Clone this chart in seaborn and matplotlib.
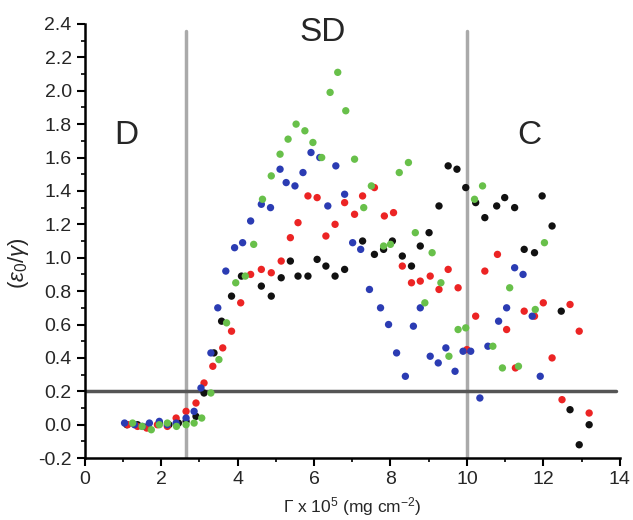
import matplotlib
matplotlib.use("Agg")
import matplotlib.pyplot as plt
import numpy as np
import pandas as pd
import seaborn as sns
from matplotlib.ticker import MultipleLocator

# surface coverage (x 1e5 mg cm^-2) and (eps0/gamma) for the four data sets
black_x = [1.10, 1.38, 1.65, 1.95, 2.20, 2.45, 2.65, 2.91, 3.12, 3.38, 3.58, 3.84, 4.10, 4.62,
           4.88, 5.14, 5.38, 5.58, 5.84, 6.08, 6.31, 6.55, 6.80, 7.27, 7.58, 7.82, 8.05, 8.31,
           8.55, 8.78, 9.01, 9.27, 9.51, 9.74, 9.97, 10.23, 10.47, 10.78, 10.99, 11.25, 11.50,
           11.77, 11.97, 12.23, 12.47, 12.70, 12.94, 13.20]
black_y = [0.00, 0.00, -0.01, 0.01, 0.00, 0.01, 0.02, 0.05, 0.19, 0.43, 0.62, 0.77, 0.89, 0.83,
           0.77, 0.88, 0.98, 0.89, 0.89, 0.99, 0.95, 0.89, 0.93, 1.10, 1.02, 1.05, 1.10, 1.01,
           0.95, 1.07, 1.15, 1.31, 1.55, 1.53, 1.42, 1.33, 1.24, 1.31, 1.36, 1.30, 1.05,
           1.03, 1.37, 1.19, 0.68, 0.09, -0.12, 0.00]

red_x = [1.12, 1.38, 1.62, 1.90, 2.16, 2.39, 2.65, 2.91, 3.12, 3.35, 3.61, 3.84, 4.08, 4.34,
         4.62, 4.88, 5.14, 5.38, 5.58, 5.84, 6.08, 6.31, 6.55, 6.80, 7.06, 7.27, 7.58, 7.84,
         8.08, 8.31, 8.55, 8.78, 9.04, 9.27, 9.51, 9.77, 10.00, 10.23, 10.47, 10.80, 11.04,
         11.27, 11.50, 11.77, 12.00, 12.23, 12.49, 12.70, 12.94, 13.20]
red_y = [0.00, -0.01, -0.02, 0.00, -0.01, 0.04, 0.08, 0.13, 0.25, 0.35, 0.46, 0.56, 0.73, 0.90,
         0.93, 0.91, 0.98, 1.12, 1.21, 1.37, 1.36, 1.13, 1.20, 1.33, 1.26, 1.37, 1.42, 1.25,
         1.27, 0.95, 0.85, 0.86, 0.89, 0.81, 0.93, 0.82, 0.45, 0.65, 0.92, 1.02, 0.57,
         0.34, 0.68, 0.65, 0.73, 0.40, 0.15, 0.72, 0.56, 0.07]

blue_x = [1.04, 1.30, 1.51, 1.69, 1.95, 2.16, 2.39, 2.65, 2.86, 3.04, 3.30, 3.48, 3.69, 3.92,
          4.13, 4.34, 4.62, 4.86, 5.11, 5.27, 5.50, 5.71, 5.92, 6.15, 6.36, 6.57, 6.80, 7.01,
          7.22, 7.45, 7.74, 7.95, 8.16, 8.39, 8.60, 8.78, 9.04, 9.25, 9.45, 9.69, 9.90, 10.10,
          10.34, 10.55, 10.83, 11.04, 11.25, 11.47, 11.71, 11.92]
blue_y = [0.01, 0.00, -0.01, 0.01, 0.02, 0.00, 0.01, 0.04, 0.08, 0.22, 0.43, 0.70, 0.92, 1.06,
          1.09, 1.22, 1.32, 1.30, 1.53, 1.45, 1.43, 1.51, 1.63, 1.60, 1.31, 1.55, 1.38, 1.09,
          1.05, 0.81, 0.70, 0.60, 0.43, 0.29, 0.59, 0.70, 0.41, 0.37, 0.46, 0.32, 0.44, 0.44,
          0.16, 0.47, 0.62, 0.70, 0.94, 0.90, 0.65, 0.29]

green_x = [1.25, 1.50, 1.74, 1.95, 2.16, 2.40, 2.65, 2.86, 3.06, 3.30, 3.51, 3.71, 3.95, 4.20,
           4.42, 4.65, 4.88, 5.11, 5.32, 5.53, 5.76, 5.97, 6.20, 6.42, 6.62, 6.83, 7.06, 7.30,
           7.50, 7.82, 8.00, 8.23, 8.47, 8.65, 8.90, 9.09, 9.32, 9.53, 9.77, 9.97, 10.20, 10.41,
           10.68, 10.93, 11.12, 11.35, 11.79, 12.03]
green_y = [0.01, -0.01, -0.03, 0.00, 0.01, -0.01, 0.00, 0.01, 0.04, 0.19, 0.39, 0.61, 0.85, 0.89,
           1.08, 1.35, 1.49, 1.62, 1.71, 1.80, 1.76, 1.69, 1.60, 1.99, 2.11, 1.88, 1.59, 1.30,
           1.43, 1.07, 1.08, 1.51, 1.57, 1.15, 0.73, 1.03, 0.85, 0.41, 0.57, 0.58, 1.35, 1.43,
           0.47, 0.34, 0.82, 0.35, 0.69, 1.09]

region_bounds = [2.65, 10.0]
threshold = 0.2

sns.set_theme(style="ticks")
plt.rcParams["font.family"] = ["Liberation Sans", "DejaVu Sans"]
plt.rcParams["mathtext.fontset"] = "custom"
plt.rcParams["mathtext.rm"] = "Liberation Sans"
plt.rcParams["mathtext.it"] = "Liberation Sans:italic"
plt.rcParams["axes.unicode_minus"] = False

df = pd.concat([
    pd.DataFrame({"x": black_x, "y": black_y, "set": "black"}),
    pd.DataFrame({"x": red_x, "y": red_y, "set": "red"}),
    pd.DataFrame({"x": blue_x, "y": blue_y, "set": "blue"}),
    pd.DataFrame({"x": green_x, "y": green_y, "set": "green"}),
], ignore_index=True)

palette = {"black": "#111111", "red": "#ec2424", "blue": "#2b3cb3", "green": "#68c04a"}

fig = plt.figure(figsize=(6.33, 5.2), dpi=100)
ax = fig.add_axes([0.134, 0.119, 0.845, 0.835])

for xv in region_bounds:
    ax.plot([xv, xv], [-0.2, 2.36], color="#aaaaaa", lw=2.5, zorder=1)
ax.plot([0, 13.9], [threshold, threshold], color="#555555", lw=2.5, zorder=1)

sns.scatterplot(data=df, x="x", y="y", hue="set", palette=palette, s=28,
                edgecolor="none", legend=False, ax=ax, zorder=3)

ax.set_xlim(0, 14)
ax.set_ylim(-0.2, 2.4)
ax.xaxis.set_major_locator(MultipleLocator(2))
ax.xaxis.set_minor_locator(MultipleLocator(1))
ax.yaxis.set_major_locator(MultipleLocator(0.2))
ax.yaxis.set_minor_locator(MultipleLocator(0.1))
ax.yaxis.set_major_formatter(matplotlib.ticker.FormatStrFormatter("%.1f"))
ax.tick_params(which="major", length=6, width=1.5, labelsize=14, color="black")
ax.tick_params(which="minor", length=3, width=1.2, color="black")
for side in ["left", "bottom"]:
    ax.spines[side].set_linewidth(1.8)
    ax.spines[side].set_color("black")
sns.despine(ax=ax)

ax.set_xlabel(r"$\Gamma$ x 10$^5$ (mg cm$^{-2}$)", fontsize=12.5)
ax.xaxis.set_label_coords(0.5, -0.085)
ax.set_ylabel(r"($\varepsilon_0$/$\gamma$)", fontsize=16)
ax.yaxis.set_label_coords(-0.1, 0.45)

ax.text(6.23, 2.35, "SD", fontsize=24, ha="center", va="center")
ax.text(1.09, 1.73, "D", fontsize=24, ha="center", va="center")
ax.text(11.64, 1.73, "C", fontsize=24, ha="center", va="center")

fig.savefig("out.png", dpi=100)
plt.close(fig)
